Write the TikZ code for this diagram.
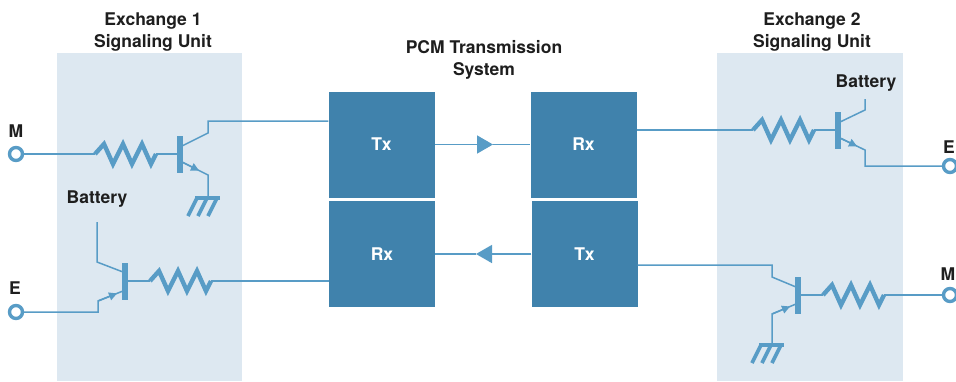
\documentclass[tikz,border=0pt]{standalone}
\usepackage{fontspec}
\setmainfont{TeX Gyre Heros}
\usetikzlibrary{arrows.meta}
\definecolor{wirec}{RGB}{88,156,198}
\definecolor{boxc}{RGB}{64,130,172}
\definecolor{panelc}{RGB}{221,232,241}
\definecolor{inkc}{RGB}{30,30,30}
\begin{document}
\begin{tikzpicture}[x=1pt,y=-1pt,
  wire/.style={draw=wirec,line width=1.5pt},
  heavy/.style={draw=wirec,line width=4.4pt,line join=miter,miter limit=6},
  blk/.style={fill=boxc,draw=none,minimum width=106pt,minimum height=106pt,text=white,font=\fontsize{17.5}{20}\selectfont\bfseries,inner sep=0pt},
  lbl/.style={text=inkc,font=\fontsize{17.5}{20}\selectfont\bfseries,inner sep=0pt},
  term/.style={circle,draw=wirec,line width=3.4pt,fill=white,minimum size=13pt,inner sep=0pt},
  tbar/.style={fill=wirec,draw=none,minimum width=5.5pt,minimum height=37pt,inner sep=0pt},
  etip/.style={wire,-{Triangle[length=8pt,width=8pt]}},
  mtip/.style={wire,-{Triangle[length=16pt,width=18pt]}},
  res/.pic={\draw[heavy] (0,0) -- (9,-10) -- (18,10) -- (28,-10) -- (37,10) -- (47,-10) -- (56,10) -- (61,0);},
  gnd/.pic={\draw[draw=wirec,line width=4pt] (-13,0) -- (12,0);
            \draw[draw=wirec,line width=3.6pt] (-11,0) -- (-20,18) (-1,0) -- (-10,18) (9,0) -- (0,18);}
]
\useasboundingbox (0,0) rectangle (956,381);
\fill[white] (0,0) rectangle (956,381);
% panels
\fill[panelc] (57,53) rectangle (242,381);
\fill[panelc] (717,53) rectangle (903,381);
% titles
\node[lbl,anchor=base] (t1a) at (153,25) {Exchange 1};
\node[lbl,anchor=base] (t1b) at (153,47) {Signaling Unit};
\node[lbl,anchor=base] (tpa) at (484,53) {PCM Transmission};
\node[lbl,anchor=base] (tpb) at (484,75) {System};
\node[lbl,anchor=base] (t2a) at (812,25) {Exchange 2};
\node[lbl,anchor=base] (t2b) at (812,47) {Signaling Unit};
% PCM blocks
\node[blk] (ltx) at (381.5,144.5) {Tx};
\node[blk] (lrx) at (382,254) {Rx};
\node[blk] (rrx) at (583.5,144.5) {Rx};
\node[blk] (rtx) at (584.5,254) {Tx};
\coordinate (tipA) at (493,144.5);
\coordinate (tipB) at (476,254);
\draw[mtip] (ltx.east) -- (tipA);
\draw[wire] (tipA) -- (rrx.west);
\draw[mtip] (rtx.west) -- (tipB);
\draw[wire] (tipB) -- (lrx.east);
% ---- Exchange 1, M lead (top)
\node[term] (M1) at (16,154) {};
\node[lbl] (M1l) at (16,131) {M};
\coordinate (r1) at (95,154);
\coordinate (r1e) at (156,154);
\node[tbar] (b1) at (180,154) {};
\draw[wire] (M1) -- (r1);
\pic at (r1) {res};
\draw[wire] (r1e) -- (b1.west);
\coordinate (c1) at (208,133);
\draw[wire] (182,146) -- (c1) -- (208,121) -- (ltx.west |- 0,121);
\coordinate (e1) at (208,175);
\coordinate (g1) at (208,198);
\draw[wire] (182,162) -- (e1) -- (g1);
\draw[etip] (182,162) -- (199,170.5);
\pic at (g1) {gnd};
% ---- Exchange 1, E lead (bottom)
\node[lbl] (bat1) at (97,199) {Battery};
\node[tbar] (b2) at (125,281) {};
\draw[wire] (97,222) -- (97,262) -- (123,272);
\coordinate (r2) at (150,281);
\coordinate (r2e) at (211,281);
\draw[wire] (b2.east) -- (r2);
\pic at (r2) {res};
\draw[wire] (r2e) -- (lrx.west |- 0,281);
\node[term] (E1) at (16,312) {};
\node[lbl] (E1l) at (15,288) {E};
\draw[wire] (E1) -- (98,312) -- (98,301) -- (123,291);
\draw[etip] (98,301) -- (117,293.4);
% ---- Exchange 2, E lead (top)
\node[lbl] (bat2) at (866,83) {Battery};
\node[tbar] (b3) at (838,130) {};
\draw[wire] (865,99) -- (865,110) -- (840,122);
\coordinate (r3) at (753,130);
\coordinate (r3e) at (814,130);
\draw[wire] (rrx.east |- 0,130) -- (r3);
\pic at (r3) {res};
\draw[wire] (r3e) -- (b3.west);
\node[term] (E2) at (950,166) {};
\node[lbl] (E2l) at (949,147) {E};
\draw[wire] (840,138) -- (865,150) -- (865,166) -- (E2);
\draw[etip] (840,138) -- (857,146.2);
% ---- Exchange 2, M lead (bottom)
\node[tbar] (b4) at (798,295) {};
\draw[wire] (rtx.east |- 0,265) -- (772,265) -- (772,277) -- (796,287);
\coordinate (r4) at (823,295);
\coordinate (r4e) at (884,295);
\draw[wire] (b4.east) -- (r4);
\pic at (r4) {res};
\node[term] (M2) at (950,295) {};
\node[lbl] (M2l) at (948,274) {M};
\draw[wire] (r4e) -- (M2);
\coordinate (g4) at (772,345);
\draw[wire] (796,304) -- (772,314) -- (g4);
\draw[etip] (772,314) -- (790,306.5);
\pic at (g4) {gnd};
\end{tikzpicture}
\end{document}
